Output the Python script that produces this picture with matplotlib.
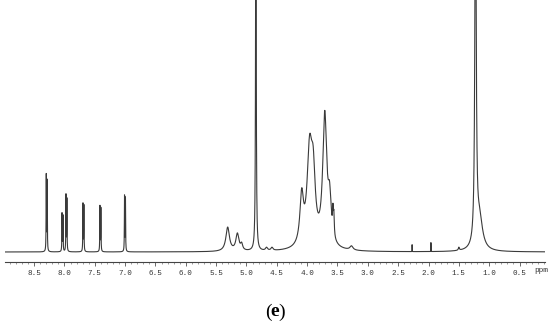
"""1H NMR spectrum, panel (e)."""
import matplotlib.pyplot as plt
import numpy as np
from matplotlib.ticker import MultipleLocator, FormatStrFormatter

# --- peaks: position (ppm), height (px above baseline), half-width (ppm) ---
PEAK_PPM = [8.30, 8.285, 8.04, 8.025, 7.975, 7.96, 7.695, 7.68, 7.415, 7.40, 7.01, 6.995,
            5.31, 5.15, 5.08, 4.845, 4.67, 4.58,
            4.09, 3.96, 3.90, 3.71, 3.63, 3.575, 3.56, 3.27,
            2.27, 1.96, 1.50, 1.225, 1.16]
PEAK_HEIGHT = [76, 70, 38, 36, 56, 52, 48, 46, 45, 43, 55, 53,
               24, 17, 6, 420, 3, 3,
               48, 92, 60, 130, 40, 22, 20, 4,
               8, 10, 3, 420, 32]
PEAK_WIDTH = [0.003, 0.003, 0.003, 0.003, 0.003, 0.003, 0.003, 0.003, 0.003, 0.003, 0.003, 0.003,
              0.035, 0.03, 0.02, 0.006, 0.02, 0.02,
              0.035, 0.05, 0.04, 0.04, 0.03, 0.008, 0.008, 0.03,
              0.0008, 0.0008, 0.01, 0.012, 0.06]

XMAX, XMIN = 8.98, 0.08


def main():
    ppm = np.linspace(XMAX, XMIN, 12000)
    inten = np.zeros_like(ppm)
    for c, h, w in zip(PEAK_PPM, PEAK_HEIGHT, PEAK_WIDTH):
        inten += h * w**2 / ((ppm - c) ** 2 + w**2)

    fig = plt.figure(figsize=(5.5, 3.29), dpi=100)
    ax = fig.add_axes([5 / 550, 1 - 262 / 329, 540 / 550, 262 / 329])
    ax.plot(ppm, inten, color="#3a3a3a", lw=0.8)

    ax.set_xlim(XMAX, XMIN)
    ax.set_ylim(-10, 252)
    for s in ("top", "left", "right"):
        ax.spines[s].set_visible(False)
    ax.spines["bottom"].set_linewidth(0.8)
    ax.spines["bottom"].set_color("#444")
    ax.set_yticks([])
    ax.xaxis.set_major_locator(MultipleLocator(0.5))
    ax.xaxis.set_minor_locator(MultipleLocator(0.1))
    ax.xaxis.set_major_formatter(FormatStrFormatter("%.1f"))
    ax.tick_params(axis="x", which="major", length=3, width=0.6, color="#555",
                   labelsize=5.5, pad=3, labelcolor="#333")
    ax.tick_params(axis="x", which="minor", length=1.5, width=0.5, color="#777")
    for lab in ax.get_xticklabels():
        lab.set_family("Liberation Mono")
    ax.text(541 / 550, 1 - 270 / 329, "ppm", transform=fig.transFigure, ha="center",
            va="center", fontsize=5.5, family="Liberation Mono", color="#333")

    fig.text(268 / 550, 1 - 312 / 329, "(", ha="center", va="center", fontsize=14,
             family="Liberation Serif")
    fig.text(275 / 550, 1 - 312 / 329, "e", ha="center", va="center", fontsize=14,
             family="Liberation Serif", fontweight="bold")
    fig.text(282 / 550, 1 - 312 / 329, ")", ha="center", va="center", fontsize=14,
             family="Liberation Serif")

    fig.savefig("out.png", dpi=100)


if __name__ == "__main__":
    main()
